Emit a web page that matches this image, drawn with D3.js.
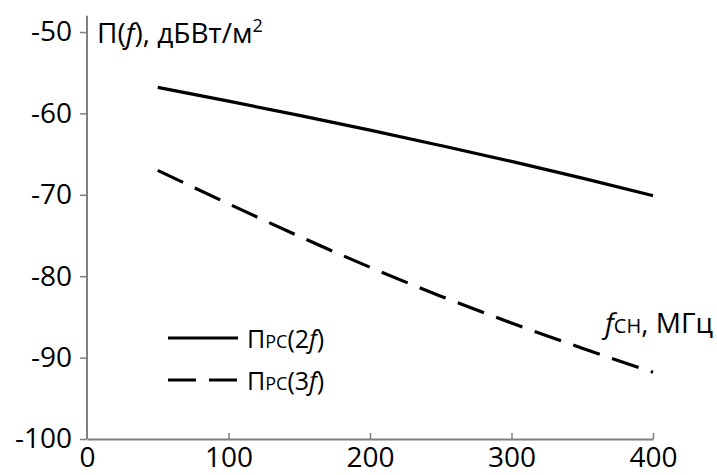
<!DOCTYPE html>
<html>
<head>
<meta charset="utf-8">
<script src="https://cdn.jsdelivr.net/npm/d3@7"></script>
<style>
  body { margin: 0; background: #fff; }
  svg { font-family: "Open Sans", sans-serif; }
</style>
</head>
<body>
<div id="chart"></div>
<script>
// values
var freq = [50, 100, 150, 200, 250, 300, 350, 400];
var p2f = [-56.8, -58.5, -60.25, -62.05, -63.95, -65.9, -67.95, -70.1];
var p3f = [-67.0, -71.1, -75.1, -78.9, -82.45, -85.75, -88.85, -91.8];
var xTicks = [0, 100, 200, 300, 400];
var yTicks = [-100, -90, -80, -70, -60, -50];
var seriesNames = ["2f", "3f"];

var width = 717, height = 475;
var axisColor = "#7f7f7f";

var svg = d3.select("#chart")
  .append("svg")
  .attr("width", width)
  .attr("height", height);

var x = d3.scaleLinear().domain([0, 400]).range([87, 653]);
var y = d3.scaleLinear().domain([-100, -50]).range([439, 32]);

// x axis, ticks point up
var gx = svg.append("g")
  .attr("transform", "translate(0," + y(-100) + ")")
  .call(d3.axisBottom(x).tickValues(xTicks).tickSize(-6).tickSizeOuter(0).tickPadding(8));

// y axis
var gy = svg.append("g")
  .attr("transform", "translate(" + x(0) + ",0)")
  .call(d3.axisLeft(y).tickValues(yTicks).tickSize(7).tickSizeOuter(0).tickPadding(8)
    .tickFormat(d => d));

gy.select(".domain").remove();
svg.append("line")
  .attr("x1", x(0)).attr("x2", x(0))
  .attr("y1", y(-48)).attr("y2", y(-100))
  .attr("stroke", axisColor)
  .attr("stroke-width", 2);

[gx, gy].forEach(function(g) {
  g.selectAll(".domain").attr("stroke", axisColor).attr("stroke-width", 2);
  g.selectAll(".tick line").attr("stroke", axisColor).attr("stroke-width", 1.5);
  g.selectAll(".tick text")
    .attr("font-size", 28)
    .attr("font-family", "Open Sans, sans-serif")
    .attr("fill", "#000");
});
gx.selectAll(".tick").filter(d => d === 0).select("line").remove();

// curves
var line = d3.line()
  .x(d => x(d[0]))
  .y(d => y(d[1]))
  .curve(d3.curveMonotoneX);

svg.append("path")
  .datum(d3.zip(freq, p2f))
  .attr("d", line)
  .attr("fill", "none")
  .attr("stroke", "#000")
  .attr("stroke-width", 3.2);

svg.append("path")
  .datum(d3.zip(freq, p3f))
  .attr("d", line)
  .attr("fill", "none")
  .attr("stroke", "#000")
  .attr("stroke-width", 3.2)
  .attr("stroke-dasharray", "28,13");

// y axis title
var title = svg.append("text")
  .attr("x", 97)
  .attr("y", 43)
  .attr("font-size", 28);
title.append("tspan").text("П(");
title.append("tspan").attr("font-style", "italic").text("f");
title.append("tspan").text("), дБВт/м");
title.append("tspan").attr("font-size", 18).attr("dy", -11).text("2");

// x axis title
var xt = svg.append("text")
  .attr("x", 713)
  .attr("y", 333)
  .attr("text-anchor", "end")
  .attr("font-size", 28);
xt.append("tspan").attr("font-style", "italic").text("f");
xt.append("tspan").attr("font-size", 20).text("CH");
xt.append("tspan").text(", МГц");

// legend
var legend = svg.append("g")
  .selectAll("g")
  .data(seriesNames)
  .join("g")
  .attr("transform", (d, i) => "translate(168," + (338 + i * 42) + ")");

legend.append("line")
  .attr("x1", 0).attr("x2", 70)
  .attr("stroke", "#000")
  .attr("stroke-width", 3.2)
  .attr("stroke-dasharray", (d, i) => i === 0 ? null : "28,13");

var lt = legend.append("text")
  .attr("x", 79)
  .attr("y", 10)
  .attr("font-size", 25);
lt.append("tspan").text("П");
lt.append("tspan").attr("font-size", 18).text("PC");
lt.append("tspan").text(d => "(" + d[0]);
lt.append("tspan").attr("font-style", "italic").text("f");
lt.append("tspan").text(")");
</script>
</body>
</html>
